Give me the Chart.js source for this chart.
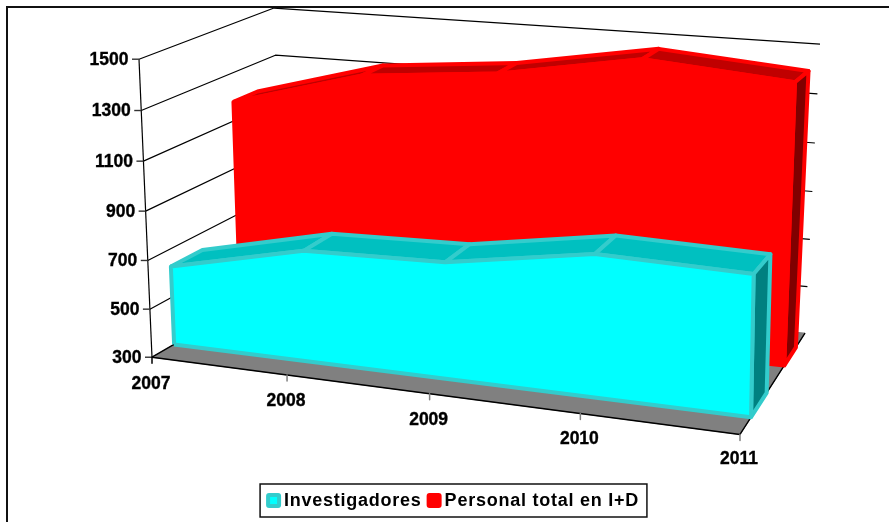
<!DOCTYPE html>
<html>
<head>
<meta charset="utf-8">
<style>
html, body { margin: 0; padding: 0; background: #fff; }
canvas { display: block; }
</style>
<script src="https://cdn.jsdelivr.net/npm/chart.js@4/dist/chart.umd.min.js"></script>
</head>
<body>
<canvas id="myChart" width="889" height="522"></canvas>
<script>
const categories = ['2007', '2008', '2009', '2010', '2011'];
const investigadores = [627, 751, 765, 857, 842];
const personal = [1179, 1328, 1377, 1474, 1427];
const yTicks = [300, 500, 700, 900, 1100, 1300, 1500];

// 3D box of the plot, corners on the page
const corners = {
  flb: [152, 356], flt: [139, 59], frb: [740, 433], frt: [744, 103],
  blb: [282, 281], blt: [274, 8], brb: [805, 332], brt: [820, 44]
};
const perspective = 1.118;
const heightWarp = 1.04;
const yMin = yTicks[0], yMax = yTicks[yTicks.length - 1];
const lastCat = categories.length - 1;

function mix(a, b, f) { return [a[0] + (b[0] - a[0]) * f, a[1] + (b[1] - a[1]) * f]; }

function project(cat, val, depth) {
  let t = cat / lastCat;
  let f = t / (t + perspective * (1 - t));
  let v = (val - yMin) / (yMax - yMin);
  v = v / (v + heightWarp * (1 - v));
  let c = corners;
  let front = mix(mix(c.flb, c.frb, f), mix(c.flt, c.frt, f), v);
  let back = mix(mix(c.blb, c.brb, f), mix(c.blt, c.brt, f), v);
  let p = mix(front, back, depth);
  return { x: p[0], y: p[1] };
}

const datasets = [];
function shape(points, fill, stroke, width) {
  datasets.push({
    data: points,
    showLine: true,
    fill: fill ? 'shape' : false,
    backgroundColor: fill || 'transparent',
    borderColor: stroke,
    borderWidth: width,
    borderJoinStyle: 'round',
    pointRadius: 0,
    tension: 0,
    clip: false,
    order: 1000 - datasets.length
  });
}

// floor and walls
shape([project(0, yMin, 0), project(lastCat, yMin, 0), project(lastCat, yMin, 1), project(0, yMin, 1), project(0, yMin, 0)], '#808080', '#808080', 1);
shape([project(0, yMin, 1), project(0, yMin, 0), project(lastCat, yMin, 0), project(lastCat, yMin, 1)], null, '#000', 1.4);
shape([project(0, yMax, 0), project(0, yMin, 0)], null, '#000', 1.2);
yTicks.forEach(v => {
  let a = project(0, v, 0);
  if (v > yMin) shape([project(0, v, 0), project(0, v, 1), project(lastCat, v, 1)], null, '#000', 1.2);
  shape([{ x: a.x - 7, y: a.y }, a], null, '#333', 1.4);
});
categories.forEach((c, i) => {
  let a = project(i, yMin, 0);
  shape([a, { x: a.x, y: a.y + 6 }], null, i == 0 ? '#000' : '#808080', 1.5);
});

// one 3D area band
function band(values, d1, d2, faces) {
  values.forEach((v, i) => {
    if (i == lastCat) return;
    shape([project(i, v, d1), project(i + 1, values[i + 1], d1), project(i + 1, values[i + 1], d2), project(i, v, d2), project(i, v, d1)], faces.top, faces.line, faces.width);
  });
  let e = values[lastCat];
  shape([project(lastCat, yMin, d1), project(lastCat, e, d1), project(lastCat, e, d2), project(lastCat, yMin, d2), project(lastCat, yMin, d1)], faces.side, faces.line, faces.width);
  let front = [project(0, yMin, d1)];
  values.forEach((v, i) => front.push(project(i, v, d1)));
  front.push(project(lastCat, yMin, d1), project(0, yMin, d1));
  shape(front, faces.front, faces.line, faces.width);
}
band(personal, 0.68, 0.86, { top: '#C00000', side: '#800000', front: '#FF0000', line: '#FF0000', width: 4 });
band(investigadores, 0.17, 0.41, { top: '#00C0C0', side: '#008080', front: '#00FFFF', line: '#33CCCC', width: 4 });

const textFont = 'bold 17.5px "Liberation Sans", Arial, sans-serif';
const legendSpacing = '0.75px';
const legendDrop = 3;
const legendMarks = [['#00FFFF', '#33CCCC'], ['#FF0000', '#FF0000']];

const extras = {
  id: 'extras',
  beforeLayout(chart) { chart.ctx.letterSpacing = legendSpacing; },
  afterLayout(chart) { chart.legend.top += legendDrop; },
  beforeDraw(chart) {
    let ctx = chart.ctx;
    ctx.letterSpacing = legendSpacing;
    ctx.save();
    ctx.strokeStyle = '#111';
    ctx.lineWidth = 2;
    ctx.beginPath();
    ctx.moveTo(7, 522);
    ctx.lineTo(7, 7);
    ctx.lineTo(889, 7);
    ctx.stroke();
    ctx.restore();
  },
  afterDatasetsDraw(chart) {
    let ctx = chart.ctx, sx = chart.scales.x, sy = chart.scales.y;
    ctx.save();
    ctx.letterSpacing = '0px';
    ctx.font = textFont;
    ctx.fillStyle = '#000';
    ctx.strokeStyle = '#000';
    ctx.lineWidth = 0.35;
    ctx.textBaseline = 'middle';
    ctx.textAlign = 'right';
    yTicks.forEach(v => {
      let p = project(0, v, 0);
      let x = sx.getPixelForValue(p.x) - 10.5, y = sy.getPixelForValue(p.y) + 1;
      ctx.fillText(String(v), x, y);
      ctx.strokeText(String(v), x, y);
    });
    ctx.textAlign = 'center';
    categories.forEach((c, i) => {
      let p = project(i, yMin, 0);
      let x = sx.getPixelForValue(p.x) - 1, y = sy.getPixelForValue(p.y) + 27 - i / 2;
      ctx.fillText(c, x, y);
      ctx.strokeText(c, x, y);
    });
    ctx.restore();
  },
  afterDraw(chart) {
    let boxes = chart.legend.legendHitBoxes, ctx = chart.ctx;
    let last = boxes[boxes.length - 1];
    let top = chart.legend.top - legendDrop;
    ctx.save();
    ctx.strokeStyle = '#111';
    ctx.lineWidth = 1.5;
    ctx.strokeRect(boxes[0].left - 6, top, last.left + last.width - boxes[0].left + 14, chart.legend.height);
    // legend keys
    boxes.forEach((b, i) => {
      ctx.beginPath();
      ctx.roundRect(b.left + 2, top + 11, 11, 11, 1);
      ctx.fillStyle = legendMarks[i][0];
      ctx.strokeStyle = legendMarks[i][1];
      ctx.lineWidth = 4;
      ctx.fill();
      ctx.stroke();
    });
    ctx.restore();
  }
};

new Chart(document.getElementById('myChart'), {
  type: 'scatter',
  data: { datasets: datasets },
  plugins: [extras],
  options: {
    responsive: false,
    animation: false,
    events: [],
    layout: { padding: { left: 16, bottom: 5 } },
    scales: {
      x: { type: 'linear', display: false, min: 16, max: 889 },
      y: { type: 'linear', display: false, reverse: true, min: 0, max: 482.34 }
    },
    plugins: {
      tooltip: { enabled: false },
      legend: {
        position: 'bottom',
        labels: {
          boxWidth: 9,
          boxHeight: 14,
          padding: 5,
          color: '#000',
          font: { family: '"Liberation Sans", Arial, sans-serif', size: 18, weight: 'bold', lineHeight: 1.37 },
          generateLabels() {
            return [
              { text: 'Investigadores', fillStyle: 'rgba(0,0,0,0)', strokeStyle: 'rgba(0,0,0,0)', lineWidth: 0 },
              { text: 'Personal total en I+D', fillStyle: 'rgba(0,0,0,0)', strokeStyle: 'rgba(0,0,0,0)', lineWidth: 0 }
            ];
          }
        }
      }
    }
  }
});
</script>
</body>
</html>
